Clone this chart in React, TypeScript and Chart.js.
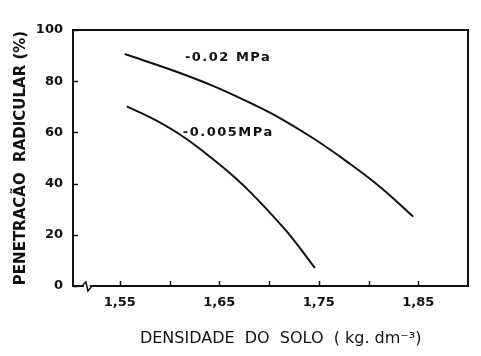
import React, { useEffect, useRef } from "react";
import { Chart, registerables } from "chart.js";

Chart.register(...registerables);

// Data
const seriesHighLabel = "-0.02 MPa";
const seriesHighX = [1.555, 1.605, 1.646, 1.686, 1.711, 1.744, 1.779, 1.812, 1.845];
const seriesHighY = [90.6, 84.0, 77.8, 70.6, 65.6, 57.8, 48.4, 38.6, 27.1];

const seriesLowLabel = "-0.005MPa";
const seriesLowX = [1.557, 1.585, 1.612, 1.639, 1.664, 1.684, 1.718, 1.746];
const seriesLowY = [70.2, 65.0, 58.8, 51.0, 43.0, 35.6, 21.2, 7.1];

const xTickValues = [1.55, 1.6, 1.65, 1.7, 1.75, 1.8, 1.85];
const xTickLabels = ["1,55", "", "1,65", "", "1,75", "", "1,85"];
const yTickValues = [0, 20, 40, 60, 80, 100];

const xMin = 1.503;
const xMax = 1.9;
const xBreakValue = 1.517;

// label anchors (data coordinates)
const highLabelPos = { x: 1.6155, y: 89.4 };
const lowLabelPos = { x: 1.6134, y: 60 };

const xTitle = "    DENSIDADE  DO  SOLO  ( kg. dm\u207B\u00B3)";
const yTitle = "PENETRACÃO  RADICULAR (%)";

const INK = "#111";
const FONT = "'DejaVu Sans', sans-serif";

const decorPlugin = {
  id: "decor",
  afterDraw(chart: any) {
    const { ctx, chartArea, scales } = chart;
    const xs = scales.x;
    const ys = scales.y;
    ctx.save();
    // frame
    ctx.strokeStyle = INK;
    ctx.lineWidth = 2;
    ctx.strokeRect(chartArea.left, chartArea.top, chartArea.right - chartArea.left, chartArea.bottom - chartArea.top);
    // inward tick marks
    ctx.lineWidth = 1.5;
    ctx.beginPath();
    xs.ticks.forEach((t: any) => {
      const px = Math.round(xs.getPixelForValue(t.value)) + 0.5;
      ctx.moveTo(px, chartArea.bottom);
      ctx.lineTo(px, chartArea.bottom - 5);
    });
    ys.ticks.forEach((t: any) => {
      const py = Math.round(ys.getPixelForValue(t.value)) + 0.5;
      ctx.moveTo(chartArea.left, py);
      ctx.lineTo(chartArea.left + 5, py);
    });
    ctx.stroke();
    // axis break
    const bx = xs.getPixelForValue(xBreakValue);
    const by = chartArea.bottom;
    ctx.fillStyle = "#fff";
    ctx.fillRect(bx - 3, by - 2, 6, 4);
    ctx.beginPath();
    ctx.moveTo(bx - 5, by);
    ctx.lineTo(bx - 1, by - 4);
    ctx.lineTo(bx + 1, by + 5);
    ctx.lineTo(bx + 5, by);
    ctx.lineWidth = 1.5;
    ctx.stroke();
    // curve labels
    ctx.fillStyle = INK;
    ctx.font = `bold 13px ${FONT}`;
    ctx.textAlign = "left";
    ctx.textBaseline = "middle";
    (ctx as any).letterSpacing = "1.5px";
    ctx.fillText(seriesHighLabel, xs.getPixelForValue(highLabelPos.x), ys.getPixelForValue(highLabelPos.y));
    ctx.fillText(seriesLowLabel, xs.getPixelForValue(lowLabelPos.x), ys.getPixelForValue(lowLabelPos.y));
    (ctx as any).letterSpacing = "0px";
    ctx.restore();
  },
};

export default function App() {
  const ref = useRef<HTMLCanvasElement | null>(null);
  useEffect(() => {
    if (!ref.current) return;
    const chart = new Chart(ref.current, {
      type: "line",
      data: {
        datasets: [
          {
            label: seriesHighLabel,
            data: seriesHighX.map((x, i) => ({ x, y: seriesHighY[i] })),
            borderColor: INK,
            borderWidth: 2,
            pointRadius: 0,
            tension: 0.4,
          },
          {
            label: seriesLowLabel,
            data: seriesLowX.map((x, i) => ({ x, y: seriesLowY[i] })),
            borderColor: INK,
            borderWidth: 2,
            pointRadius: 0,
            tension: 0.4,
          },
        ],
      },
      options: {
        animation: false,
        responsive: true,
        maintainAspectRatio: false,
        layout: { padding: { top: 30, right: 13, left: 0, bottom: 0 } },
        plugins: { legend: { display: false }, tooltip: { enabled: false } },
        scales: {
          x: {
            type: "linear",
            min: xMin,
            max: xMax,
            afterFit: (s: any) => {
              s.height = 70;
            },
            afterBuildTicks: (s: any) => {
              s.ticks = xTickValues.map((v) => ({ value: v }));
            },
            ticks: {
              autoSkip: false,
              maxRotation: 0,
              padding: 9,
              color: INK,
              font: { family: FONT, size: 13, weight: "bold" },
              callback: (_v: any, i: number) => xTickLabels[i],
            },
            grid: { display: false, drawTicks: false },
            border: { display: false },
            title: {
              display: true,
              text: xTitle,
              color: INK,
              font: { family: FONT, size: 16 },
              padding: { top: 0, bottom: 8 },
            },
          },
          y: {
            type: "linear",
            min: 0,
            max: 100,
            afterFit: (s: any) => {
              s.width = 73;
            },
            afterBuildTicks: (s: any) => {
              s.ticks = yTickValues.map((v) => ({ value: v }));
            },
            ticks: {
              padding: 10,
              color: INK,
              font: { family: FONT, size: 13, weight: "bold" },
            },
            grid: { display: false, drawTicks: false },
            border: { display: false },
            title: {
              display: true,
              text: yTitle,
              color: INK,
              font: { family: FONT, size: 15, weight: "bold" },
              padding: { top: 12, bottom: 0 },
            },
          },
        },
      },
      plugins: [decorPlugin],
    } as any);
    return () => chart.destroy();
  }, []);
  return (
    <div style={{ position: "fixed", left: 0, top: 0, width: 481, height: 356, background: "#fff" }}>
      <canvas ref={ref} />
    </div>
  );
}
